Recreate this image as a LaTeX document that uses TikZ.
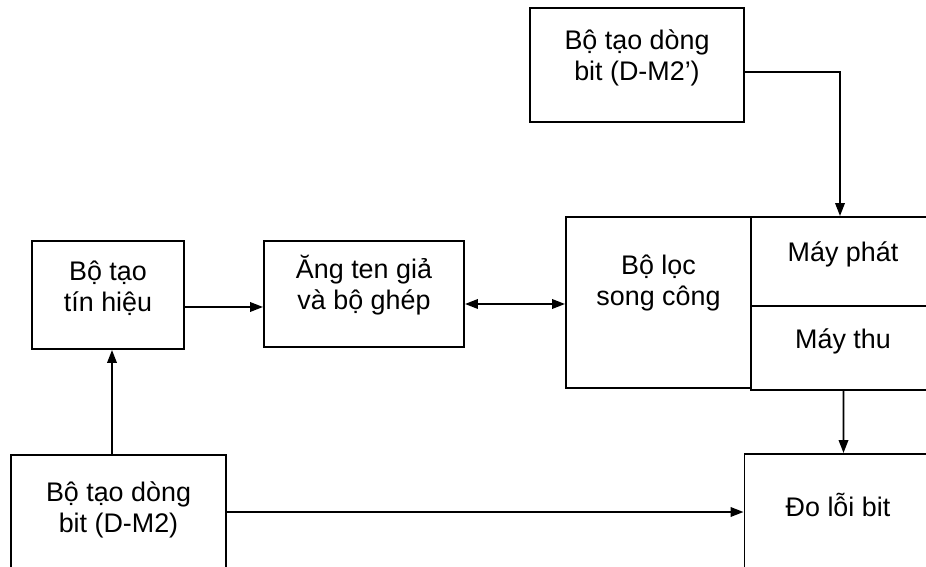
\documentclass[tikz,border=0pt]{standalone}
\usepackage{fontspec}
\setmainfont{Liberation Sans}
\usetikzlibrary{arrows.meta}
\tikzstyle{box} = [rectangle, draw, fill=white, inner sep=0pt]
\tikzstyle{txt} = [align=center, inner sep=0pt, font=\fontsize{15.3pt}{17.6pt}\selectfont]

\begin{document}
\begin{tikzpicture}[x=0.02cm,y=-0.02cm,>={Triangle[length=7.4pt,width=5.4pt]},line width=1.1pt]
  \useasboundingbox (0,0) rectangle (926,567);
  \clip (0,0) rectangle (926,567);

  % boxes
  \node[box, minimum width=4.28cm, minimum height=2.28cm] (dm2p) at (637,65) {};
  \node[box, minimum width=3.04cm, minimum height=2.16cm] (tin) at (108,295) {};
  \node[box, minimum width=4.0cm, minimum height=2.12cm] (ang) at (364,294) {};
  \node[box, minimum width=3.7cm, minimum height=3.42cm] (loc) at (658.5,302.5) {};
  \node[box, minimum width=3.7cm, minimum height=1.78cm] (phat) at (843.5,261.5) {};
  \node[box, minimum width=3.7cm, minimum height=1.68cm] (thu) at (843.5,348) {};
  \node[box, minimum width=4.3cm, minimum height=2.28cm] (dm2) at (118.5,512) {};
  \node[box, minimum width=3.74cm, minimum height=2.6cm] (do) at (838,519) {};

  % texts
  \node[txt] (dm2p-t) at (637,58) {Bộ tạo dòng\\bit (D-M2’)};
  \node[txt] (tin-t) at (108,288) {Bộ tạo\\tín hiệu};
  \node[txt] (ang-t) at (364,285) {Ăng ten giả\\và bộ ghép};
  \node[txt] (loc-t) at (658.5,283) {Bộ lọc\\song công};
  \node[txt] (phat-t) at (843,254) {Máy phát};
  \node[txt] (thu-t) at (843,341) {Máy thu};
  \node[txt] (dm2-t) at (118.5,510) {Bộ tạo dòng\\bit (D-M2)};
  \node[txt] (do-t) at (838,505) {Đo lỗi bit};

  % connectors
  \draw[->] ([yshift=-0.14cm]dm2p.east) -| ([xshift=-0.07cm]phat.north);
  \draw[->] ([yshift=-0.24cm]tin.east) -- ([yshift=-0.26cm]ang.west);
  \draw[<->] ([yshift=-0.2cm]ang.east) -- ([yshift=-0.03cm]loc.west);
  \draw[->] ([xshift=-0.13cm]dm2.north) -- ([xshift=0.08cm]tin.south);
  \draw[->] (dm2.east) -- ([yshift=0.14cm]do.west);
  \draw[->] (thu.south) -- ([xshift=0.11cm]do.north);
\end{tikzpicture}
\end{document}
